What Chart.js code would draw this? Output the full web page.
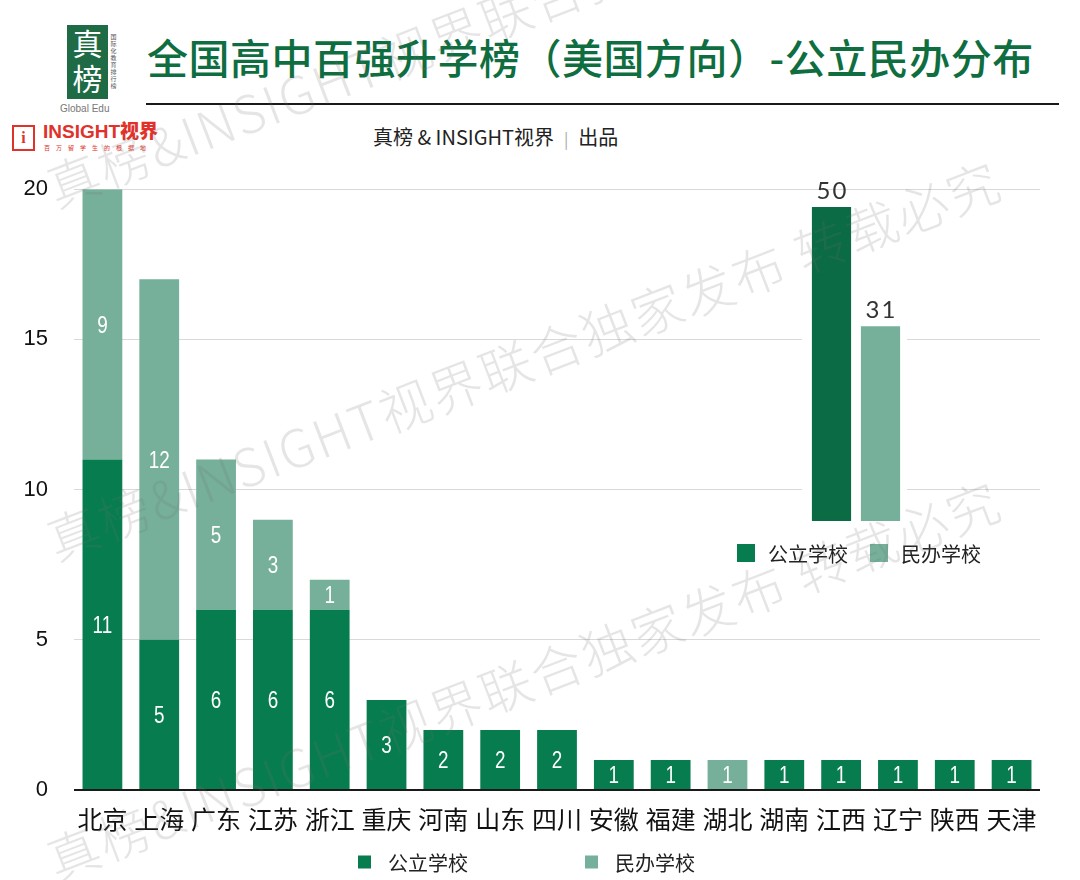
<!DOCTYPE html>
<html>
<head>
<meta charset="utf-8">
<script src="https://cdn.jsdelivr.net/npm/chart.js@4.4.1/dist/chart.umd.min.js"></script>
<style>
  html, body { margin: 0; padding: 0; background: #fff; }
  body { width: 1080px; height: 880px; position: relative; overflow: hidden; font-family: "Noto Sans CJK SC", sans-serif; }
  .abs { position: absolute; }
  #logoBox { left: 67px; top: 25px; width: 41px; height: 74px; background: #1f6b46; color: #fff; font-size: 30px; line-height: 35px; text-align: center; }
  #logoSide { left: 109px; top: 34px; font-size: 6px; color: #555; writing-mode: vertical-rl; letter-spacing: 1px; }
  #logoEn { left: 60px; top: 103px; font-size: 10px; color: #777; font-family: "Liberation Sans", sans-serif; }
  #title { left: 147px; top: 29px; font-size: 41px; line-height: 54px; color: #0f6e3f; font-weight: 500; letter-spacing: 0.5px; white-space: nowrap; }
  #rule { left: 146px; top: 103px; width: 913px; height: 2px; background: #1a1a1a; }
  #sub { left: 373px; top: 124px; font-size: 20px; line-height: 26px; color: #222; white-space: nowrap; }
  #sub .sep { color: #aaa; font-size: 16px; margin: 0 10px; }
  #insIcon { left: 12px; top: 125px; width: 19px; height: 22px; border: 2px solid #e0322b; color: #e0322b; font: bold 16px/22px "Liberation Serif", serif; text-align: center; }
  #insText { left: 43px; top: 121px; color: #e0322b; font: 900 19px/22px "Liberation Sans", "Noto Sans CJK SC", sans-serif; white-space: nowrap; }
  #insSmall { left: 44px; top: 143px; color: #e0322b; font-size: 6px; letter-spacing: 6px; white-space: nowrap; }
  #main { left: 0; top: 150px; }
  #inset { left: 720px; top: 170px; }
  .wm { position: absolute; font-size: 52px; line-height: 52px; color: rgba(110,110,110,0.18); font-weight: 300; white-space: nowrap; transform-origin: 0 100%; transform: rotate(-21deg); pointer-events: none; font-family: "Noto Sans CJK SC", sans-serif; letter-spacing: 2px; }
</style>
</head>
<body>
<div class="abs" id="logoBox">真<br>榜</div>
<div class="abs" id="logoSide">国际化教育排行榜</div>
<div class="abs" id="logoEn">Global Edu</div>
<div class="abs" id="title">全国高中百强升学榜（美国方向）-公立民办分布</div>
<div class="abs" id="rule"></div>
<div class="abs" id="insIcon">i</div>
<div class="abs" id="insText">INSIGHT视界</div>
<div class="abs" id="insSmall">百万留学生的根据地</div>
<div class="abs" id="sub">真榜 &amp; INSIGHT视界<span class="sep">|</span>出品</div>

<canvas class="abs" id="main" width="1080" height="730"></canvas>
<canvas class="abs" id="inset" width="300" height="410"></canvas>

<div class="wm" style="left:58px; top:160px;">真榜&amp;INSIGHT视界联合独家发布 转载必究</div>
<div class="wm" style="left:58px; top:513px;">真榜&amp;INSIGHT视界联合独家发布 转载必究</div>
<div class="wm" style="left:58px; top:833px;">真榜&amp;INSIGHT视界联合独家发布 转载必究</div>

<script>
var provinces = ['北京', '上海', '广东', '江苏', '浙江', '重庆', '河南', '山东', '四川', '安徽', '福建', '湖北', '湖南', '江西', '辽宁', '陕西', '天津'];
var publicCounts = [11, 5, 6, 6, 6, 3, 2, 2, 2, 1, 1, 0, 1, 1, 1, 1, 1];
var privateCounts = [9, 12, 5, 3, 1, 0, 0, 0, 0, 0, 0, 1, 0, 0, 0, 0, 0];
var seriesNames = ['公立学校', '民办学校'];
var totals = [50, 31];
var yTicks = [0, 5, 10, 15, 20];

var DARK = '#077d4f';
var LIGHT = '#76b09a';
var INSET_DARK = '#0a6b45';
var CJK = '"Noto Sans CJK SC", sans-serif';

// white numbers in the middle of each segment (squeezed a bit, the original uses a narrow face)
var segmentLabels = {
  id: 'segmentLabels',
  afterDatasetsDraw: function(chart) {
    var ctx = chart.ctx;
    ctx.save();
    ctx.fillStyle = '#fff';
    ctx.font = '23px "Liberation Sans", sans-serif';
    ctx.textAlign = 'center';
    ctx.textBaseline = 'middle';
    chart.data.datasets.forEach(function(ds, i) {
      chart.getDatasetMeta(i).data.forEach(function(bar, j) {
        var v = ds.data[j];
        if (!v) return;
        ctx.save();
        ctx.translate(bar.x, (bar.y + bar.base) / 2 + 2);
        ctx.scale(0.82, 1);
        ctx.fillText(String(v), 0, 0);
        ctx.restore();
      });
    });
    ctx.restore();
  }
};

// square-box legend at fixed spots
var boxLegend = {
  id: 'boxLegend',
  afterDraw: function(chart, args, opts) {
    var ctx = chart.ctx;
    var y = chart.chartArea.bottom + opts.dy;
    ctx.save();
    ctx.font = '20px ' + CJK;
    ctx.textBaseline = 'middle';
    ctx.textAlign = 'left';
    opts.items.forEach(function(it, i) {
      var x = opts.x + i * opts.step;
      ctx.fillStyle = it.color;
      ctx.fillRect(x, y - opts.box / 2, opts.box, opts.box);
      ctx.fillStyle = '#222';
      ctx.fillText(it.text, x + opts.gap, y + 1);
    });
    ctx.restore();
  }
};

new Chart(document.getElementById('main'), {
  type: 'bar',
  data: {
    labels: provinces,
    datasets: [
      { label: seriesNames[0], data: publicCounts, backgroundColor: DARK },
      { label: seriesNames[1], data: privateCounts, backgroundColor: LIGHT }
    ]
  },
  options: {
    responsive: false,
    animation: false,
    layout: { padding: { left: 0, right: 40, top: 34, bottom: 0 } },
    barPercentage: 0.7,
    categoryPercentage: 1,
    plugins: {
      legend: { display: false },
      tooltip: { enabled: false },
      boxLegend: {
        x: 358, step: 227, dy: 72, box: 13, gap: 30,
        items: [{ text: seriesNames[0], color: DARK }, { text: seriesNames[1], color: LIGHT }]
      }
    },
    scales: {
      x: {
        stacked: true,
        grid: { display: false },
        border: { display: false },
        ticks: { color: '#111', font: { family: CJK, size: 25 }, padding: 6, maxRotation: 0, autoSkip: false },
        afterFit: function(s) { s.height = 90; }
      },
      y: {
        stacked: true,
        min: 0,
        max: 20,
        border: { display: false },
        afterBuildTicks: function(s) { s.ticks = yTicks.map(function(v) { return { value: v }; }); },
        grid: {
          drawTicks: false,
          color: function(c) { return c.tick && c.tick.value === 0 ? '#1a1a1a' : '#d9d9d9'; },
          lineWidth: function(c) { return c.tick && c.tick.value === 0 ? 2 : 1; }
        },
        ticks: { color: '#111', font: { family: '"Liberation Sans", sans-serif', size: 22 }, padding: 26 },
        afterFit: function(s) { s.width = 74; }
      }
    }
  },
  plugins: [segmentLabels, boxLegend]
});

// inset: totals
var insetPaint = {
  id: 'insetPaint',
  beforeDraw: function(chart) {
    var a = chart.chartArea;
    var ctx = chart.ctx;
    ctx.save();
    ctx.fillStyle = '#fff';
    ctx.fillRect(a.left - 5, 25, a.right - a.left + 7, a.bottom - 25 + 2);
    ctx.restore();
  },
  afterDatasetsDraw: function(chart) {
    var ctx = chart.ctx;
    ctx.save();
    ctx.fillStyle = '#333';
    ctx.font = '24px Lato, "DejaVu Sans", sans-serif';
    if ('letterSpacing' in ctx) ctx.letterSpacing = '2px';
    ctx.textAlign = 'center';
    ctx.textBaseline = 'middle';
    var ds = chart.data.datasets[0];
    chart.getDatasetMeta(0).data.forEach(function(bar, j) {
      ctx.fillText(String(ds.data[j]), bar.x + 1, bar.y - 16);
    });
    ctx.restore();
  }
};

new Chart(document.getElementById('inset'), {
  type: 'bar',
  data: {
    labels: seriesNames,
    datasets: [{
      data: totals,
      backgroundColor: [INSET_DARK, LIGHT]
    }]
  },
  options: {
    responsive: false,
    animation: false,
    layout: { padding: { left: 87, right: 115, top: 37, bottom: 59 } },
    barPercentage: 0.8,
    categoryPercentage: 1,
    plugins: {
      tooltip: { enabled: false },
      legend: { display: false },
      boxLegend: {
        x: 17, step: 133, dy: 32, box: 18, gap: 31,
        items: [{ text: seriesNames[0], color: DARK }, { text: seriesNames[1], color: LIGHT }]
      }
    },
    scales: {
      x: { display: false },
      y: { display: false, min: 0, max: 50 }
    }
  },
  plugins: [insetPaint, boxLegend]
});
</script>
</body>
</html>
